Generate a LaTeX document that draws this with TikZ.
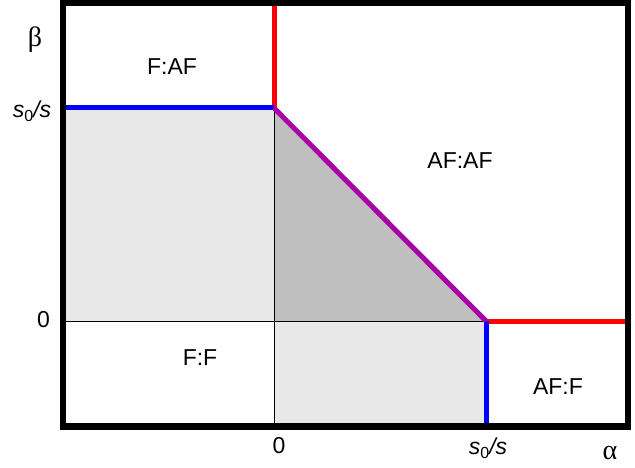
\documentclass[tikz,border=0pt]{standalone}
\usepackage{fontspec}
\setmainfont{Liberation Sans}
\newfontfamily\greekfont{Liberation Serif}
\usetikzlibrary{positioning}

\newcommand{\sratio}{\textit{s}\raisebox{-0.35ex}{\fontsize{16}{16}\selectfont 0}\textit{/s}}

\begin{document}
\begin{tikzpicture}[x=1pt,y=-1pt,
  lbl/.style={font=\fontsize{23}{27}\selectfont,inner sep=0pt},
  greek/.style={lbl,font=\fontsize{28}{30}\greekfont},
  bound/.style={line width=5pt},
  axis/.style={black,line width=0.9pt}]
\useasboundingbox (0,0) rectangle (635,468);
% shaded regions
\draw[fill=black!9,draw=none] (63,108) rectangle (274,321);
\draw[fill=black!9,draw=none] (274,321) rectangle (486,426.5);
\draw[fill=black!25,draw=none] (274,108) -- (274,321) -- (486,321) -- cycle;
% axes
\coordinate (o) at (274,321);
\coordinate (ybar) at (274,108);
\coordinate (xbar) at (486,321);
\draw[axis] (63,321) -- (xbar);
\draw[axis] (ybar) -- (274,426.5);
% phase boundaries
\draw[bound,red] (274,0) -- (ybar);
\draw[bound,red] (xbar) -- (628,321);
\draw[bound,blue] (63,108) -- (ybar);
\draw[bound,blue] (xbar) -- (486,426.5);
\draw[bound,violet!70!magenta] (ybar) -- (xbar);
% frame
\draw[line width=6.5pt] (63,3) rectangle (628,426.5);
% regions
\node[lbl] (faf) at (172,67) {F:AF};
\node[lbl] (afaf) at (460,161) {AF:AF};
\node[lbl] (ff) at (200,358) {F:F};
\node[lbl] (aff) at (558,387) {AF:F};
% tick labels
\node[greek] (beta) at (35,40) {β};
\node[lbl] (ytop) at (32,111) {\sratio};
\node[lbl] (yzero) at (43.5,320) {0};
\node[lbl] (xzero) at (279,446) {0};
\node[lbl] (xtop) at (488,448) {\sratio};
\node[greek] (alpha) at (610,453) {α};
\end{tikzpicture}
\end{document}
